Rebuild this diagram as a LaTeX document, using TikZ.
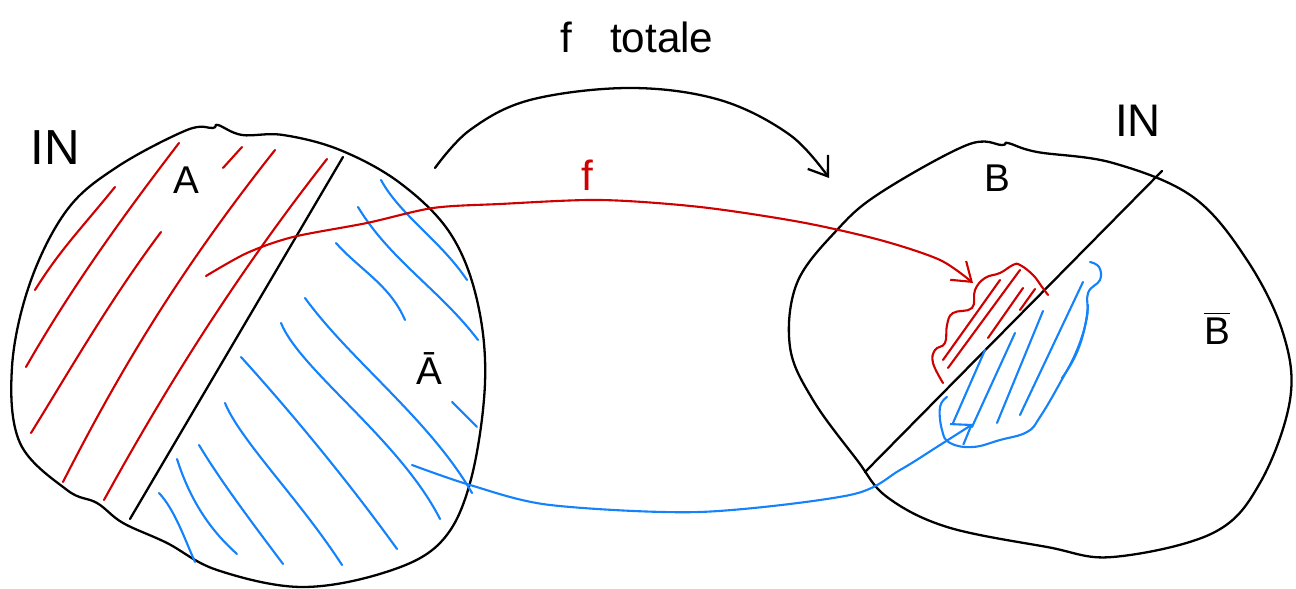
\documentclass[tikz,border=0pt]{standalone}
\usepackage{fontspec}
\setmainfont{Liberation Sans}
\usetikzlibrary{arrows.meta}
\definecolor{hred}{RGB}{206,0,0}
\definecolor{hblue}{RGB}{20,130,250}
\begin{document}
\begin{tikzpicture}[x=0.01cm,y=-0.01cm,
  outline/.style={draw=black,line width=0.65pt,line cap=round,line join=round},
  rh/.style={draw=hred,line width=0.6pt,line cap=round},
  bh/.style={draw=hblue,line width=0.6pt,line cap=round},
  lbl/.style={font=\fontsize{11}{11}\selectfont,inner sep=0pt},
  tip/.style={-{Straight Barb[length=5pt,width=7pt]}}]
\useasboundingbox (0,0) rectangle (1296,589);
% ---------- left set
\draw[outline] plot[smooth cycle,tension=0.6] coordinates {
 (213,128) (218,125) (242,135) (283,135) (340,150) (400,183) (450,233) (477,300)
 (485,383) (470,483) (440,543) (383,573) (300,587) (217,570) (167,543) (123,523)
 (97,503) (67,490) (20,443) (12,367) (30,283) (67,210) (117,167) (187,130)};
\draw[outline] (343,157) -- (130,519);
% red hatches (A)
\draw[rh] (115,187) .. controls (80,230) and (60,250) .. (35,290);
\draw[rh] (179,143) .. controls (120,220) and (70,290) .. (26,367);
\draw[rh] (161,232) .. controls (110,300) and (70,370) .. (31,433);
\draw[rh] (242,147) -- (223,168);
\draw[rh] (275,150) .. controls (180,270) and (120,370) .. (63,482);
\draw[rh] (327,159) .. controls (240,270) and (170,380) .. (104,500);
% blue hatches (A bar)
\draw[bh] (381,180) .. controls (400,215) and (440,240) .. (467,280);
\draw[bh] (358,207) .. controls (390,260) and (440,290) .. (478,340);
\draw[bh] (336,243) .. controls (360,270) and (390,285) .. (405,320);
\draw[bh] (305,298) .. controls (350,360) and (430,420) .. (472,493);
\draw[bh] (281,323) .. controls (300,370) and (400,440) .. (440,519);
\draw[bh] (241,357) .. controls (280,400) and (340,470) .. (397,549);
\draw[bh] (225,403) .. controls (240,440) and (300,500) .. (342,565);
\draw[bh] (199,445) .. controls (220,480) and (250,520) .. (283,564);
\draw[bh] (177,459) .. controls (190,500) and (210,530) .. (237,554);
\draw[bh] (159,493) .. controls (175,510) and (185,540) .. (195,562);
\draw[bh] (452,402) -- (477,427);
% ---------- right set
\draw[outline] plot[smooth cycle,tension=0.6] coordinates {
 (1002,145) (1008,143) (1037,152) (1113,163) (1193,197) (1247,260) (1283,333)
 (1290,400) (1260,483) (1213,533) (1113,557) (1047,547) (947,527) (887,497)
 (857,460) (813,400) (790,347) (797,283) (837,230) (880,193) (967,145)};
\draw[outline] (1162,171) -- (865,472);
% red image blob
\draw[rh] plot[smooth,tension=0.7] coordinates {
 (943,383) (933,363) (935,350) (945,343) (947,325) (953,313) (972,308) (975,290)
 (985,278) (1000,273) (1013,265) (1020,265) (1033,275) (1042,287) (1048,295)};
\draw[rh] (1020,270) -- (948,368);
\draw[rh] (1000,280) -- (943,360);
\draw[rh] (1023,288) -- (988,338);
\draw[rh] (1035,289) -- (1020,310);
% blue image blob
\draw[bh] plot[smooth,tension=0.7] coordinates {
 (947,397) (940,407) (942,430) (950,443) (973,447) (1000,440) (1027,432) (1040,417)
 (1060,383) (1077,350) (1087,317) (1088,293) (1100,280) (1099,267) (1090,262)};
\draw[bh] (1083,282) -- (1020,415);
\draw[bh] (1043,311) -- (997,423);
\draw[bh] (1015,333) -- (972,427);
\draw[bh] (985,350) -- (953,423);
\draw[bh] (1088,305) .. controls (1085,340) and (1075,360) .. (1062,378);
% ---------- labels
\node[lbl,font=\fontsize{14}{14}\selectfont] (inL) at (55,148) {IN};
\node[lbl,font=\fontsize{13}{13}\selectfont] (inR) at (1138,121) {IN};
\node[lbl] (A) at (186,180) {A};
\node[lbl] (Abar) at (429,369) {Ā};
\node[lbl] (B) at (997,178) {B};
\node[lbl] (Bbar) at (1217,328) {$\overline{\mbox{B}}$};
\node[lbl,text=hred,font=\fontsize{12}{12}\selectfont] (fl) at (587,175) {f};
\node[lbl,font=\fontsize{12}{12}\selectfont] (ftot) at (637,37) {f\hspace{0.9em}totale};
% ---------- arrows
\coordinate (tS) at (435,168);
\coordinate (tE) at (829,178);
\draw[outline,tip] plot[smooth,tension=0.6] coordinates {
 (tS) (470,130) (530,100) (630,88) (720,100) (790,135) (tE)};
\coordinate (rS) at (206,276);
\coordinate (rE) at (973,283);
\draw[rh,tip] plot[smooth,tension=0.5] coordinates {
 (rS) (247,253) (293,237) (367,223) (433,208) (500,204) (600,200) (700,207)
 (800,222) (880,240) (940,260) (rE)};
\coordinate (bS) at (412,465);
\coordinate (bE) at (973,424);
\draw[bh,tip] plot[smooth,tension=0.5] coordinates {
 (bS) (470,485) (550,505) (700,512) (850,495) (900,470) (940,445) (bE)};
\end{tikzpicture}
\end{document}
